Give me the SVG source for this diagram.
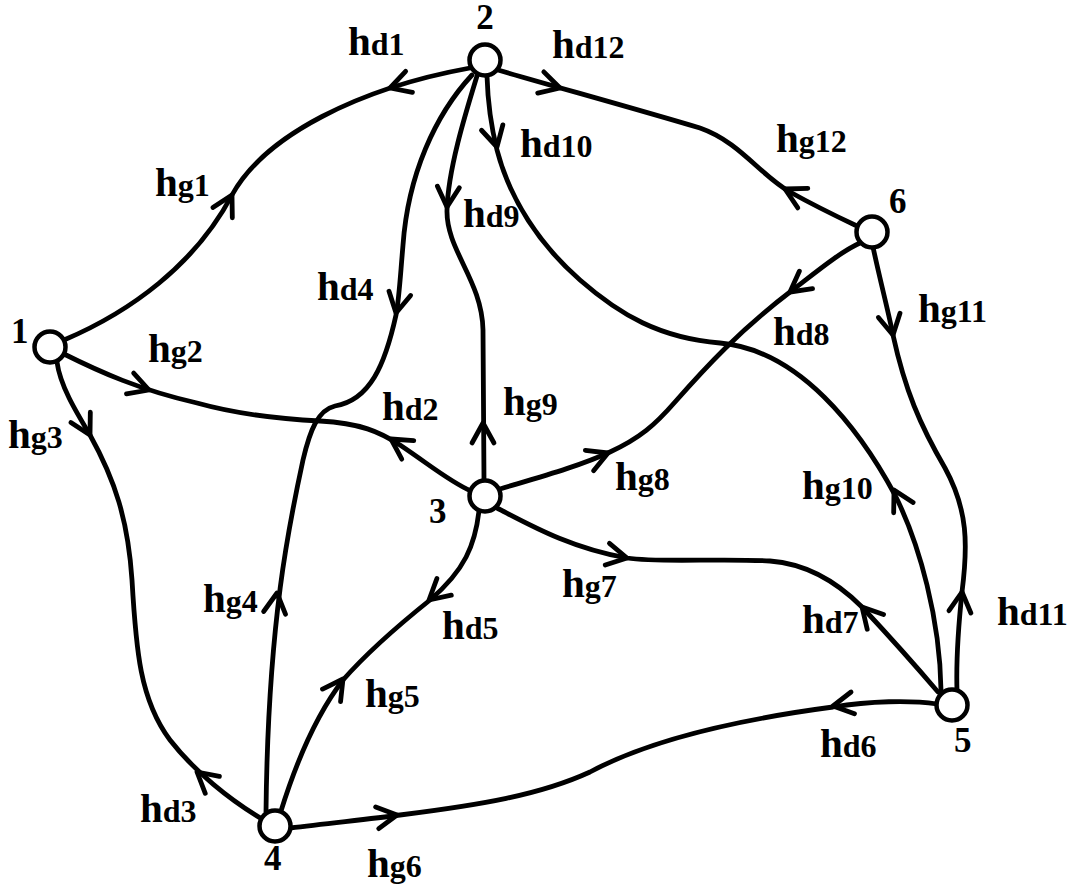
<svg xmlns="http://www.w3.org/2000/svg" xmlns:xlink="http://www.w3.org/1999/xlink" width="1074" height="889" viewBox="0 0 1074 889">
<style>
  .e{fill:none;stroke:#000;stroke-width:4.8;stroke-linecap:round;stroke-linejoin:round}
  .n{fill:#fff;stroke:#000;stroke-width:4.5}
  .t{font-family:"Liberation Serif","Times New Roman",serif;font-weight:bold;fill:#000}
  .h{font-size:41px}
  .s{font-size:32px}
  .d{font-size:35px}
</style>
<defs>
  <path id="ch" d="M -20,-11 L 0,0 L -20,11" fill="none" stroke="#000" stroke-width="4.8" stroke-linecap="round" stroke-linejoin="round"/>
</defs>
<rect width="1074" height="889" fill="#fff"/>
<g id="connectors">
  <g id="e12">
    <path class="e" d="M 64,340 C 130,312 195,265 232,195 C 265,135 360,88 470,68"/>
    <use xlink:href="#ch" href="#ch" transform="translate(232,195) rotate(-62)"/>
    <use xlink:href="#ch" href="#ch" transform="translate(390,88) rotate(162)"/>
  </g>
  <g id="e26">
    <path class="e" d="M 498,70 C 560,88 640,110 700,128 C 740,142 760,175 790,192 C 815,206 840,218 857,226"/>
    <use xlink:href="#ch" href="#ch" transform="translate(560,88) rotate(16)"/>
    <use xlink:href="#ch" href="#ch" transform="translate(785,189) rotate(207)"/>
  </g>
  <g id="e23">
    <path class="e" d="M 477,76 C 465,115 448,170 447,210 C 446,250 482,280 483,330 L 484,481"/>
    <use xlink:href="#ch" href="#ch" transform="translate(447,207) rotate(94)"/>
    <use xlink:href="#ch" href="#ch" transform="translate(483,423) rotate(-90)"/>
  </g>
  <g id="e25">
    <path class="e" d="M 487,76 C 488,110 492,130 497,150 C 510,200 540,245 580,280 C 620,315 660,338 720,343 C 800,350 860,430 895,495 C 920,545 940,620 941,690"/>
    <use xlink:href="#ch" href="#ch" transform="translate(497,147) rotate(76)"/>
    <use xlink:href="#ch" href="#ch" transform="translate(894,490) rotate(242)"/>
  </g>
  <g id="e24">
    <path class="e" d="M 472,75 C 435,115 408,175 403,245 C 400,280 399,300 396,315 C 385,365 370,400 335,406 C 318,410 310,430 303,460 C 290,520 268,620 266,812"/>
    <use xlink:href="#ch" href="#ch" transform="translate(396,313) rotate(101)"/>
    <use xlink:href="#ch" href="#ch" transform="translate(277,593) rotate(-83)"/>
  </g>
  <g id="e13">
    <path class="e" d="M 64,354 C 100,372 140,390 197,403 C 240,415 280,419 320,421 C 360,423 380,432 400,445 C 430,465 450,482 471,491"/>
    <use xlink:href="#ch" href="#ch" transform="translate(149,390) rotate(19)"/>
    <use xlink:href="#ch" href="#ch" transform="translate(391,439) rotate(213)"/>
  </g>
  <g id="e14">
    <path class="e" d="M 57,362 C 60,385 75,410 90,435 C 115,480 128,520 132,580 C 136,650 140,700 170,740 C 195,772 230,800 262,819"/>
    <use xlink:href="#ch" href="#ch" transform="translate(90,435) rotate(62)"/>
    <use xlink:href="#ch" href="#ch" transform="translate(197,772) rotate(220)"/>
  </g>
  <g id="e34">
    <path class="e" d="M 479,511 C 475,545 465,570 430,600 C 395,628 365,655 343,680 C 320,710 300,750 281,811"/>
    <use xlink:href="#ch" href="#ch" transform="translate(429,600) rotate(139)"/>
    <use xlink:href="#ch" href="#ch" transform="translate(343,679) rotate(-55)"/>
  </g>
  <g id="e36">
    <path class="e" d="M 500,489 C 540,477 580,466 610,452 C 640,438 655,425 675,402 C 705,368 740,330 790,292 C 815,273 840,252 860,243"/>
    <use xlink:href="#ch" href="#ch" transform="translate(608,453) rotate(-22)"/>
    <use xlink:href="#ch" href="#ch" transform="translate(790,292) rotate(143)"/>
  </g>
  <g id="e35">
    <path class="e" d="M 497,508 C 530,525 570,548 627,558 C 660,563 720,558 770,561 C 810,564 840,585 862,607 C 890,637 915,665 938,692"/>
    <use xlink:href="#ch" href="#ch" transform="translate(627,558) rotate(11)"/>
    <use xlink:href="#ch" href="#ch" transform="translate(862,607) rotate(228)"/>
  </g>
  <g id="e56">
    <path class="e" d="M 873,247 C 880,280 888,310 893,335 C 905,390 920,425 945,468 C 968,510 968,545 962,592 C 958,630 956,660 957,691"/>
    <use xlink:href="#ch" href="#ch" transform="translate(893,335) rotate(79)"/>
    <use xlink:href="#ch" href="#ch" transform="translate(962,592) rotate(-84)"/>
  </g>
  <g id="e45">
    <path class="e" d="M 290,828 C 330,823 370,819 400,815 C 480,805 540,795 590,772 C 640,745 720,722 833,707 C 870,701 910,700 937,704"/>
    <use xlink:href="#ch" href="#ch" transform="translate(397,815) rotate(-8)"/>
    <use xlink:href="#ch" href="#ch" transform="translate(833,706) rotate(171)"/>
  </g>
</g>
<g id="node1"><circle class="n" cx="50" cy="347" r="15.5"/><text class="t d" x="11" y="343">1</text></g>
<g id="node2"><circle class="n" cx="485" cy="60" r="15.5"/><text class="t d" x="485" y="29" text-anchor="middle">2</text></g>
<g id="node3"><circle class="n" cx="485" cy="496" r="15.5"/><text class="t d" x="429" y="523">3</text></g>
<g id="node4"><circle class="n" cx="275" cy="826" r="15.5"/><text class="t d" x="264" y="870">4</text></g>
<g id="node5"><circle class="n" cx="952" cy="705" r="15.5"/><text class="t d" x="954" y="752">5</text></g>
<g id="node6"><circle class="n" cx="872" cy="232" r="15.5"/><text class="t d" x="889" y="213">6</text></g>
<g id="labels">
  <text class="t" x="348" y="55"><tspan class="h">h</tspan><tspan class="s">d1</tspan></text>
  <text class="t" x="552" y="58"><tspan class="h">h</tspan><tspan class="s">d12</tspan></text>
  <text class="t" x="520" y="157"><tspan class="h">h</tspan><tspan class="s">d10</tspan></text>
  <text class="t" x="776" y="152"><tspan class="h">h</tspan><tspan class="s">g12</tspan></text>
  <text class="t" x="155" y="196"><tspan class="h">h</tspan><tspan class="s">g1</tspan></text>
  <text class="t" x="463" y="227"><tspan class="h">h</tspan><tspan class="s">d9</tspan></text>
  <text class="t" x="317" y="300"><tspan class="h">h</tspan><tspan class="s">d4</tspan></text>
  <text class="t" x="918" y="322"><tspan class="h">h</tspan><tspan class="s">g11</tspan></text>
  <text class="t" x="148" y="362"><tspan class="h">h</tspan><tspan class="s">g2</tspan></text>
  <text class="t" x="773" y="345"><tspan class="h">h</tspan><tspan class="s">d8</tspan></text>
  <text class="t" x="503" y="415"><tspan class="h">h</tspan><tspan class="s">g9</tspan></text>
  <text class="t" x="382" y="420"><tspan class="h">h</tspan><tspan class="s">d2</tspan></text>
  <text class="t" x="8" y="448"><tspan class="h">h</tspan><tspan class="s">g3</tspan></text>
  <text class="t" x="615" y="490"><tspan class="h">h</tspan><tspan class="s">g8</tspan></text>
  <text class="t" x="802" y="499"><tspan class="h">h</tspan><tspan class="s">g10</tspan></text>
  <text class="t" x="562" y="597"><tspan class="h">h</tspan><tspan class="s">g7</tspan></text>
  <text class="t" x="203" y="612"><tspan class="h">h</tspan><tspan class="s">g4</tspan></text>
  <text class="t" x="802" y="633"><tspan class="h">h</tspan><tspan class="s">d7</tspan></text>
  <text class="t" x="997" y="625"><tspan class="h">h</tspan><tspan class="s">d11</tspan></text>
  <text class="t" x="442" y="639"><tspan class="h">h</tspan><tspan class="s">d5</tspan></text>
  <text class="t" x="365" y="707"><tspan class="h">h</tspan><tspan class="s">g5</tspan></text>
  <text class="t" x="820" y="757"><tspan class="h">h</tspan><tspan class="s">d6</tspan></text>
  <text class="t" x="140" y="822"><tspan class="h">h</tspan><tspan class="s">d3</tspan></text>
  <text class="t" x="367" y="877"><tspan class="h">h</tspan><tspan class="s">g6</tspan></text>
</g>
</svg>
